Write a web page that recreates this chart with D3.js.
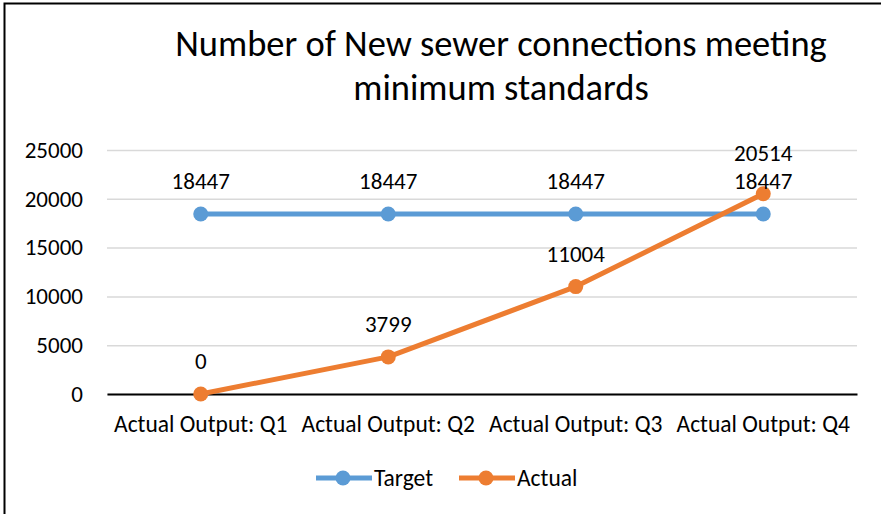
<!DOCTYPE html>
<html>
<head>
<meta charset="utf-8">
<script src="https://cdn.jsdelivr.net/npm/d3@7"></script>
<style>
  body { margin: 0; background: #fff; }
  svg { display: block; font-family: Carlito, Calibri, Lato, sans-serif; }
</style>
</head>
<body>
<div id="chart"></div>
<script>
// chart data
const categories = ["Actual Output: Q1", "Actual Output: Q2", "Actual Output: Q3", "Actual Output: Q4"];
const targetValues = [18447, 18447, 18447, 18447];
const actualValues = [0, 3799, 11004, 20514];
const yTicks = [0, 5000, 10000, 15000, 20000, 25000];
const seriesNames = ["Target", "Actual"];
const titleLines = ["Number of New sewer connections meeting", "minimum standards"];

const W = 881, H = 514;
const plot = { left: 107, right: 857, top: 150, bottom: 394 };
const colors = { Target: "#5B9BD5", Actual: "#ED7D31" };
const fontFamily = "Carlito, Calibri, Lato, sans-serif";
const fs = 23;

const svg = d3.select("#chart").append("svg")
    .attr("width", W)
    .attr("height", H);

// chart border (cropped on right and bottom)
svg.append("rect")
    .attr("x", 4.5).attr("y", 3.5)
    .attr("width", W + 10).attr("height", H + 10)
    .attr("fill", "#fff")
    .attr("stroke", "#000")
    .attr("stroke-width", 2);

// title
svg.append("g").selectAll("text")
    .data(titleLines)
    .join("text")
    .attr("x", 501)
    .attr("y", (d, i) => 56 + i * 44)
    .attr("text-anchor", "middle")
    .attr("font-size", 36.5)
    .attr("fill", "#000")
    .text(d => d);

const x = d3.scaleBand()
    .domain(categories)
    .range([plot.left, plot.right]);

const y = d3.scaleLinear()
    .domain([0, 25000])
    .range([plot.bottom, plot.top]);

// gridlines
svg.append("g")
    .attr("transform", `translate(${plot.left},0)`)
    .call(d3.axisLeft(y).tickValues(yTicks).tickSize(-(plot.right - plot.left)).tickFormat(""))
    .call(g => g.select(".domain").remove())
    .call(g => g.selectAll(".tick line").attr("stroke", "#D9D9D9").attr("stroke-width", 1.5));

// y labels
svg.append("g")
    .attr("transform", `translate(${plot.left},0)`)
    .call(d3.axisLeft(y).tickValues(yTicks).tickSize(0).tickPadding(24).tickFormat(d3.format("d")))
    .call(g => g.select(".domain").remove())
    .call(g => g.selectAll("text").attr("font-size", fs).attr("font-family", fontFamily).attr("fill", "#000"));

// x axis
svg.append("g")
    .attr("transform", `translate(0,${y(0)})`)
    .call(d3.axisBottom(x).tickSize(0).tickPadding(21))
    .call(g => g.select(".domain").attr("stroke", "#000").attr("stroke-width", 2))
    .call(g => g.selectAll("text").attr("font-size", fs + 0.5).attr("font-family", fontFamily).attr("fill", "#000"));

const cx = d => x(d) + x.bandwidth() / 2;
const line = d3.line()
    .x((d, i) => cx(categories[i]))
    .y(d => y(d));

const series = [
    { name: "Target", values: targetValues },
    { name: "Actual", values: actualValues }
];

series.forEach(s => {
    svg.append("path")
        .datum(s.values)
        .attr("fill", "none")
        .attr("stroke", colors[s.name])
        .attr("stroke-width", 5)
        .attr("stroke-linejoin", "round")
        .attr("d", line);

    svg.append("g").selectAll("circle")
        .data(s.values)
        .join("circle")
        .attr("cx", (d, i) => cx(categories[i]))
        .attr("cy", d => y(d))
        .attr("r", 7.5)
        .attr("fill", colors[s.name]);
});

// data labels, above each point; stacked labels at the same category get pushed apart
const labels = [];
series.forEach(s => {
    s.values.forEach((v, i) => labels.push({ cat: categories[i], value: v, ly: y(v) - 25 }));
});
categories.forEach(c => {
    const group = labels.filter(l => l.cat === c).sort((a, b) => b.ly - a.ly);
    for (let k = 1; k < group.length; k++) {
        if (group[k - 1].ly - group[k].ly < 28) group[k].ly = group[k - 1].ly - 28;
    }
});
svg.append("g").selectAll("text")
    .data(labels)
    .join("text")
    .attr("x", d => cx(d.cat))
    .attr("y", d => d.ly)
    .attr("text-anchor", "middle")
    .attr("font-size", fs)
    .attr("fill", "#000")
    .text(d => d.value);

// legend
const legend = svg.append("g").attr("transform", "translate(316,478)");
seriesNames.forEach((name, i) => {
    const item = legend.append("g").attr("transform", `translate(${i * 143},0)`);
    item.append("line")
        .attr("x1", 0).attr("x2", 56)
        .attr("stroke", colors[name])
        .attr("stroke-width", 5);
    item.append("circle")
        .attr("cx", 27).attr("r", 7.5)
        .attr("fill", colors[name]);
    item.append("text")
        .attr("x", 58).attr("y", 8)
        .attr("font-size", fs + 0.5)
        .attr("fill", "#000")
        .text(name);
});
</script>
</body>
</html>
